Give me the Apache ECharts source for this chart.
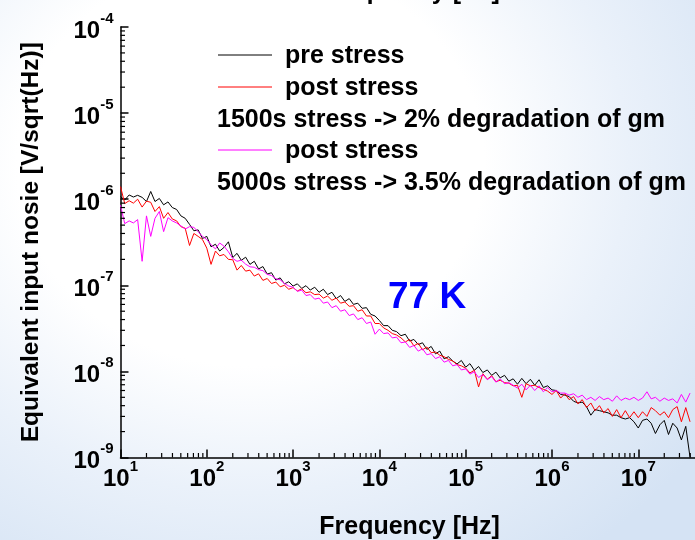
<!DOCTYPE html>
<html>
<head>
<meta charset="utf-8">
<title>Equivalent input noise at 77 K</title>
<script src="https://cdn.jsdelivr.net/npm/echarts@6/dist/echarts.min.js"></script>
<style>
  html, body { margin: 0; padding: 0; width: 695px; height: 540px; overflow: hidden; }
  body {
    background: radial-gradient(ellipse 80% 90% at 36% 30%, #ffffff 0%, #ffffff 42%, #eaf1fa 68%, #d5e3f4 100%);
  }
  #chart { width: 695px; height: 540px; }
</style>
</head>
<body>
<div id="chart"></div>
<script>
// Sample frequencies [Hz], 20 points per decade
const frequency = [
  10, 11.2, 12.6, 14.1, 15.8, 17.8, 20, 22.4, 25.1, 28.2, 31.6, 35.5, 39.8, 44.7, 50.1, 56.2, 63.1, 70.8, 79.4, 89.1,
  100, 112, 126, 141, 158, 178, 200, 224, 251, 282, 316, 355, 398, 447, 501, 562, 631, 708, 794, 891,
  1000, 1120, 1260, 1410, 1580, 1780, 2000, 2240, 2510, 2820, 3160, 3550, 3980, 4470, 5010, 5620, 6310, 7080, 7940, 8910,
  1e4, 1.12e4, 1.26e4, 1.41e4, 1.58e4, 1.78e4, 2e4, 2.24e4, 2.51e4, 2.82e4, 3.16e4, 3.55e4, 3.98e4, 4.47e4, 5.01e4, 5.62e4, 6.31e4, 7.08e4, 7.94e4, 8.91e4,
  1e5, 1.12e5, 1.26e5, 1.41e5, 1.58e5, 1.78e5, 2e5, 2.24e5, 2.51e5, 2.82e5, 3.16e5, 3.55e5, 3.98e5, 4.47e5, 5.01e5, 5.62e5, 6.31e5, 7.08e5, 7.94e5, 8.91e5,
  1e6, 1.12e6, 1.26e6, 1.41e6, 1.58e6, 1.78e6, 2e6, 2.24e6, 2.51e6, 2.82e6, 3.16e6, 3.55e6, 3.98e6, 4.47e6, 5.01e6, 5.62e6, 6.31e6, 7.08e6, 7.94e6, 8.91e6,
  1e7, 1.12e7, 1.26e7, 1.41e7, 1.58e7, 1.78e7, 2e7, 2.24e7, 2.51e7, 2.82e7, 3.16e7, 3.55e7, 3.98e7
];

// Equivalent input noise, nV/sqrt(Hz)
const preStress = [
  1070, 980, 1120, 1060, 1110, 1050, 940, 1230, 940, 1020, 860, 930, 800, 760, 640, 600, 510, 430, 440, 350,
  370, 280, 300, 250, 275, 320, 210, 235, 195, 212, 175, 190, 155, 165, 135, 140, 115, 122, 104, 110,
  98, 104, 92, 99, 88, 95, 83, 90, 78, 83, 70, 76, 65, 70, 60, 62, 54, 55, 46, 44,
  39, 34, 34, 30, 29, 26, 27, 22.5, 23.5, 20.5, 21.5, 18, 19.5, 16, 17.2, 14, 14.8, 13.2, 12.2, 13.4,
  11.2, 12.3, 10.3, 11.4, 9.7, 10.4, 9.0, 9.8, 8.4, 9.0, 7.7, 8.2, 7.1, 8.3, 7.2, 8.1, 6.9, 8.0, 6.5, 6.8,
  6.1, 6.0, 5.4, 5.3, 5.1, 4.5, 4.3, 4.4, 3.9, 3.1, 3.6, 3.5, 3.4, 3.3, 3.1, 3.1, 2.9, 2.8, 2.9, 2.6,
  2.2, 2.7, 2.8, 2.5, 1.9, 2.4, 2.7, 1.85, 2.5, 2.2, 1.6, 2.3, 1.0
];

// After 1500 s stress (2 % gm degradation)
const post1500s = [
  1400, 890, 960, 900, 1000, 810, 950, 920, 720, 820, 600, 700, 590, 560, 480, 460, 290, 400, 370, 340,
  270, 175, 250, 220, 228, 200, 198, 150, 170, 146, 150, 128, 136, 114, 120, 105, 109, 96, 100, 90,
  94, 86, 91, 82, 84, 78, 79, 71, 75, 67, 71, 62, 64, 57, 58, 50, 52, 44, 44, 36,
  36, 32, 30, 27.5, 26.5, 24.5, 22, 23.5, 19.8, 21.2, 17.8, 19.2, 16.5, 16.8, 15.4, 14.8, 13.8, 13.2, 12.0, 11.6,
  10.9, 9.6, 10.3, 6.6, 9.4, 8.1, 8.9, 7.6, 7.9, 7.4, 7.3, 6.8, 6.9, 5.0, 7.2, 6.8, 6.9, 6.5, 6.2, 5.9,
  5.4, 6.0, 4.9, 5.5, 4.7, 5.1, 4.2, 4.7, 3.8, 4.3, 3.5, 4.0, 3.3, 3.7, 3.0, 3.6, 2.9, 3.5, 2.9, 3.4,
  2.9, 3.4, 3.0, 3.8, 3.5, 3.1, 3.4, 2.9, 3.6, 3.9, 2.6, 3.8, 2.6
];

// After 5000 s stress (3.5 % gm degradation)
const post5000s = [
  850, 520, 560, 530, 580, 190, 640, 370, 600, 720, 420, 610, 560, 530, 490, 450, 480, 470, 420, 370,
  340, 295, 265, 310, 285, 245, 205, 190, 196, 176, 164, 162, 152, 148, 134, 130, 119, 116, 105, 98,
  95, 85, 88, 76, 78, 69, 71, 62, 64, 55, 58, 50, 52, 44.5, 46.5, 40, 42, 36, 37.5, 27,
  31, 27.5, 28, 24.5, 25, 21.5, 22, 19, 20, 17.2, 18.3, 15.6, 16.1, 14.1, 14.8, 12.8, 13.4, 11.6, 12.0, 10.4,
  10.7, 9.3, 9.9, 8.5, 9.2, 8.0, 8.7, 7.5, 8.2, 7.2, 7.4, 6.9, 6.4, 7.1, 6.1, 6.9, 6.0, 6.8, 5.8, 6.5,
  5.8, 6.0, 5.6, 5.6, 5.3, 5.5, 5.0, 5.3, 4.7, 5.0, 4.6, 5.1, 4.7, 4.9, 4.5, 5.2, 4.6, 4.9, 4.7, 5.0,
  4.6, 4.9, 5.8, 4.8, 5.0, 4.5, 4.9, 4.6, 4.8, 4.3, 5.4, 4.4, 5.6
];

// Decade labels (powers of ten) and log minor tick mantissas
const xExponents = [1, 2, 3, 4, 5, 6, 7];
const yExponents = [-9, -8, -7, -6, -5, -4];
const minorMantissas = [2, 3, 4, 5, 6, 7, 8, 9];

const X_MIN = 10, X_MAX = 5e7;
const Y_MIN = 1e-9, Y_MAX = 1e-4;
const NANO = 1e-9;

const FONT = "'Liberation Sans', Arial, Helvetica, sans-serif";

const toPairs = vals => frequency.map((f, i) => [f, vals[i] * NANO]);

// minor tick values at 2..9 x 10^n
const xMinor = [];
xExponents.forEach(e => minorMantissas.forEach(m => {
  const v = m * Math.pow(10, e);
  if (v < X_MAX) xMinor.push(v);
}));
const yMinor = [];
yExponents.slice(0, -1).forEach(e => minorMantissas.forEach(m => yMinor.push(m * Math.pow(10, e))));

function powLabel(exps) {
  return v => {
    const lg = Math.log10(v);
    const e = Math.round(lg);
    if (Math.abs(lg - e) > 1e-6 || exps.indexOf(e) < 0) return '';
    return '{b|10}{s|' + e + '}';
  };
}

const richPow = {
  b: { fontSize: 24, fontWeight: 'bold', fontFamily: FONT, color: '#000', lineHeight: 32, verticalAlign: 'bottom' },
  s: { fontSize: 15, fontWeight: 'bold', fontFamily: FONT, color: '#000', lineHeight: 32, verticalAlign: 'top' }
};

const chart = echarts.init(document.getElementById('chart'), null, { renderer: 'canvas' });

const lineSeries = (name, vals, color) => ({
  type: 'line',
  name: name,
  data: toPairs(vals),
  symbol: 'none',
  showSymbol: false,
  lineStyle: { color: color, width: 1 },
  itemStyle: { color: color },
  silent: true,
  z: 3
});

const legendFont = 'bold 25px ' + FONT;

chart.setOption({
  animation: false,
  grid: {
    left: 120.5, top: 27, width: 578.1, height: 430.5,
    containLabel: false, outerBoundsMode: 'none'
  },
  xAxis: [{
    type: 'log', logBase: 10, min: X_MIN, max: X_MAX,
    name: 'Frequency [Hz]', nameLocation: 'middle', nameGap: 57,
    nameTextStyle: { fontSize: 25, fontWeight: 'bold', fontFamily: FONT, color: '#000' },
    axisLine: { show: true, lineStyle: { color: '#000', width: 1.5 } },
    axisTick: { show: true, inside: true, length: 8, lineStyle: { color: '#000', width: 1.5 } },
    axisLabel: { margin: 2, formatter: powLabel(xExponents), rich: richPow, showMaxLabel: false },
    splitLine: { show: false },
    minorTick: { show: false }
  }, {
    // upper frequency axis: only its title remains at the top edge
    type: 'log', logBase: 10, min: X_MIN, max: X_MAX, position: 'top',
    name: 'Frequency [Hz]', nameLocation: 'middle', nameGap: 22,
    nameTextStyle: { fontSize: 25, fontWeight: 'bold', fontFamily: FONT, color: '#000' },
    axisLine: { show: false }, axisTick: { show: false }, axisLabel: { show: false },
    splitLine: { show: false }
  }],
  yAxis: {
    type: 'log', logBase: 10, min: Y_MIN, max: Y_MAX,
    name: 'Equivalent input nosie [V/sqrt(Hz)]', nameLocation: 'middle', nameGap: 77,
    nameTextStyle: { fontSize: 24.5, fontWeight: 'bold', fontFamily: FONT, color: '#000' },
    axisLine: { show: true, lineStyle: { color: '#000', width: 1.5 } },
    axisTick: { show: true, inside: true, length: 8, lineStyle: { color: '#000', width: 1.5 } },
    axisLabel: { margin: 7, formatter: powLabel(yExponents), rich: richPow },
    splitLine: { show: false }
  },
  series: [
    lineSeries('pre stress', preStress, '#000000'),
    lineSeries('post stress 1500s', post1500s, '#ff0000'),
    lineSeries('post stress 5000s', post5000s, '#ff00ff'),
    {
      // logarithmic minor ticks on the frequency axis
      type: 'custom', silent: true, clip: false, z: 4,
      data: xMinor.map(v => [v, Y_MIN]),
      renderItem: (params, api) => {
        const p = api.coord([api.value(0), api.value(1)]);
        return { type: 'line', shape: { x1: p[0], y1: p[1], x2: p[0], y2: p[1] - 4.5 },
                 style: { stroke: '#000', lineWidth: 1.2 } };
      }
    },
    {
      // logarithmic minor ticks on the noise axis
      type: 'custom', silent: true, clip: false, z: 4,
      data: yMinor.map(v => [X_MIN, v]),
      renderItem: (params, api) => {
        const p = api.coord([api.value(0), api.value(1)]);
        return { type: 'line', shape: { x1: p[0], y1: p[1], x2: p[0] + 4.5, y2: p[1] },
                 style: { stroke: '#000', lineWidth: 1.2 } };
      }
    }
  ],
  graphic: [
    { type: 'line', shape: { x1: 218, y1: 55, x2: 272, y2: 55 }, style: { stroke: '#000000', lineWidth: 1 } },
    { type: 'text', x: 285, y: 56, style: { text: 'pre stress', font: legendFont, fill: '#000', textAlign: 'left', textVerticalAlign: 'middle' } },
    { type: 'line', shape: { x1: 218, y1: 87, x2: 272, y2: 87 }, style: { stroke: '#ff0000', lineWidth: 1 } },
    { type: 'text', x: 285, y: 88, style: { text: 'post stress', font: legendFont, fill: '#000', textAlign: 'left', textVerticalAlign: 'middle' } },
    { type: 'text', x: 217, y: 120, style: { text: '1500s stress -> 2% degradation of gm', font: legendFont, fill: '#000', textAlign: 'left', textVerticalAlign: 'middle' } },
    { type: 'line', shape: { x1: 218, y1: 150, x2: 272, y2: 150 }, style: { stroke: '#ff00ff', lineWidth: 1 } },
    { type: 'text', x: 285, y: 151, style: { text: 'post stress', font: legendFont, fill: '#000', textAlign: 'left', textVerticalAlign: 'middle' } },
    { type: 'text', x: 217, y: 183, style: { text: '5000s stress -> 3.5% degradation of gm', font: legendFont, fill: '#000', textAlign: 'left', textVerticalAlign: 'middle' } },
    { type: 'text', x: 388, y: 298, style: { text: '77 K', font: 'bold 37px ' + FONT, fill: '#0000ff', textAlign: 'left', textVerticalAlign: 'middle' } }
  ]
});
</script>
</body>
</html>
